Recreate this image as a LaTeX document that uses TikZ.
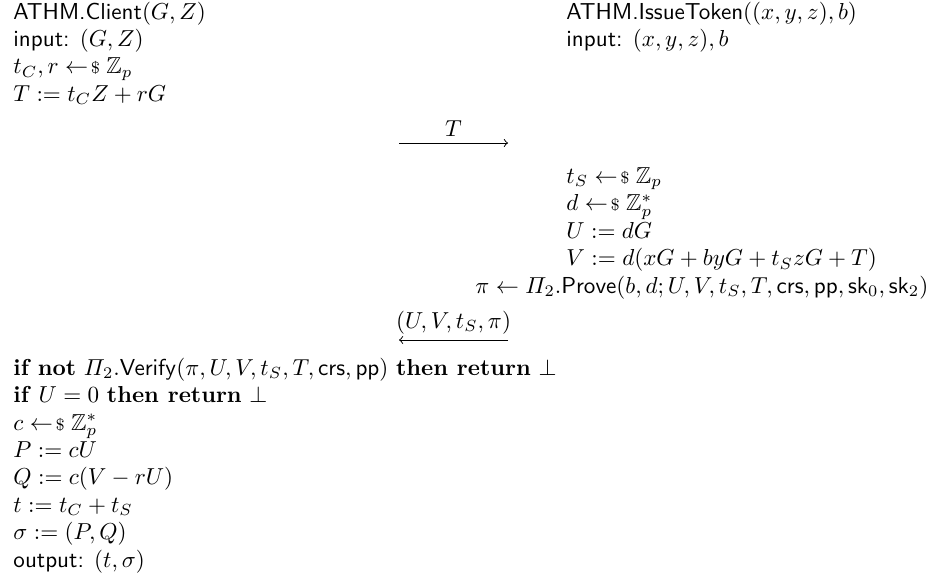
\documentclass[tikz,border=0pt]{standalone}
\usepackage{amsmath,amssymb}
\newcommand{\smp}{\mathrel{\leftarrow\mkern-3mu\text{\scriptsize\$}}}
\begin{document}
\begin{tikzpicture}[x=0.4329pt,y=-0.4329pt,
  txt/.style={inner sep=0pt, anchor=base west},
  lbl/.style={inner sep=0pt, anchor=base},
  msg/.style={line width=0.4pt, ->}]
\useasboundingbox (0,0) rectangle (930,581);
% client header
\node[txt] (c0) at (13,19) {\textsf{ATHM.Client}$(G,Z)$};
\node[txt] (c1) at (13,46.4) {\textsf{input:} $(G,Z)$};
\node[txt] (c2) at (13,73.8) {$t_C, r \smp \mathbb{Z}_p$};
\node[txt] (c3) at (13,101.2) {$T := t_C Z + rG$};
% server header
\node[txt] (s0) at (566,19) {\textsf{ATHM.IssueToken}$((x,y,z),b)$};
\node[txt] (s1) at (566,46.4) {\textsf{input:} $(x,y,z),b$};
% message 1
\coordinate (m1a) at (399,143);
\coordinate (m1b) at (508,143);
\draw[msg] (m1a) -- (m1b);
\node[lbl] (m1l) at (453.5,136) {$T$};
% server computations
\node[txt] (s2) at (566,183.4) {$t_S \smp \mathbb{Z}_p$};
\node[txt] (s3) at (566,210.8) {$d \smp \mathbb{Z}_p^*$};
\node[txt] (s4) at (566,238.2) {$U := dG$};
\node[txt] (s5) at (566,265.6) {$V := d(xG + byG + t_S zG + T)$};
\node[txt] (s6) at (475,293) {$\pi \leftarrow \varPi_2.\mathsf{Prove}(b,d;U,V,t_S,T,\mathsf{crs},\mathsf{pp},\mathsf{sk}_0,\mathsf{sk}_2)$};
% message 2
\coordinate (m2a) at (508,340);
\coordinate (m2b) at (399,340);
\draw[msg] (m2a) -- (m2b);
\node[lbl] (m2l) at (453.5,328) {$(U,V,t_S,\pi)$};
% client final
\node[txt] (c4) at (13,375.2) {\textbf{if not} $\varPi_2.\mathsf{Verify}(\pi,U,V,t_S,T,\mathsf{crs},\mathsf{pp})$ \textbf{then return} $\bot$};
\node[txt] (c5) at (13,402.6) {\textbf{if} $U = 0$ \textbf{then return} $\bot$};
\node[txt] (c6) at (13,430) {$c \smp \mathbb{Z}_p^*$};
\node[txt] (c7) at (13,457.4) {$P := cU$};
\node[txt] (c8) at (13,484.8) {$Q := c(V - rU)$};
\node[txt] (c9) at (13,512.2) {$t := t_C + t_S$};
\node[txt] (c10) at (13,539.6) {$\sigma := (P,Q)$};
\node[txt] (c11) at (13,567) {\textsf{output:} $(t,\sigma)$};
\end{tikzpicture}
\end{document}
